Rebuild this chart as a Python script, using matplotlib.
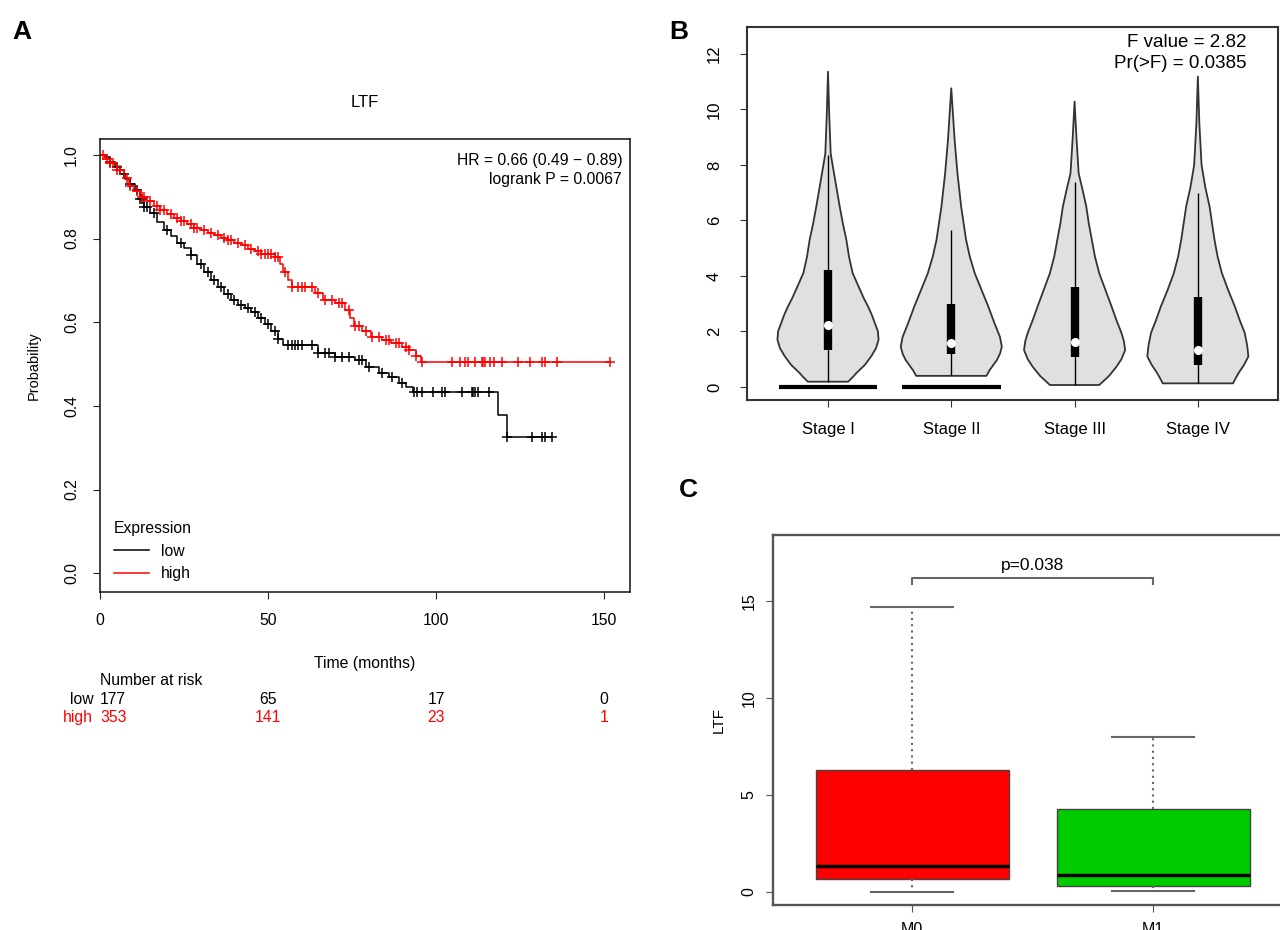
import numpy as np
import matplotlib
matplotlib.use("Agg")
import matplotlib.pyplot as plt

plt.rcParams['font.family'] = ['Liberation Sans', 'DejaVu Sans']

# ---------------- Panel A: Kaplan-Meier data ----------------
low_times = [0, 1.5, 3, 4.5, 6, 7.5, 9, 10.5, 12, 13, 15, 17, 19, 21, 23, 25, 27, 29, 31,
             33, 35, 37, 39, 41, 43, 45, 47, 49, 51, 53, 54.5, 65, 70, 76, 79, 83, 86, 89,
             91, 93, 118.5, 121]
low_surv = [1.0, 0.994, 0.983, 0.972, 0.955, 0.943, 0.93, 0.915, 0.895, 0.875, 0.86, 0.84,
            0.82, 0.805, 0.79, 0.778, 0.76, 0.74, 0.72, 0.70, 0.685, 0.668, 0.653, 0.64,
            0.635, 0.625, 0.61, 0.595, 0.58, 0.56, 0.545, 0.526, 0.517, 0.51, 0.493, 0.478,
            0.469, 0.455, 0.445, 0.434, 0.378, 0.326]
low_end = 134.5
low_censor = [3, 5, 7, 9, 11, 12, 12.5, 13, 14, 16, 20, 24, 27, 30, 32, 34, 36, 38, 40, 42,
              44, 46, 48, 50, 52, 53, 56, 57, 58, 59, 60, 63, 65, 67, 68, 70, 72, 74, 77, 78,
              80, 84, 87, 90, 93.3, 94.2, 95.7, 99.2, 101.7, 102.7, 107.6, 110.6, 111.1,
              111.6, 112.6, 115.6, 121, 128.4, 131.4, 132.4, 134.4]

high_times = [0, 1.5, 3, 5, 7, 8.5, 10, 12, 14, 16, 18, 20, 22, 24, 26, 28, 30, 32, 34, 36,
              38, 40, 42, 44, 46, 48, 52, 53.5, 54.5, 56, 57, 64, 66.5, 70, 73, 74.5, 75.5,
              78, 80.5, 84, 86.5, 90, 92, 94, 95.5]
high_surv = [1.0, 0.99, 0.98, 0.965, 0.945, 0.925, 0.913, 0.9, 0.89, 0.878, 0.868, 0.858,
             0.85, 0.842, 0.834, 0.826, 0.82, 0.814, 0.808, 0.802, 0.796, 0.79, 0.784, 0.776,
             0.77, 0.764, 0.756, 0.74, 0.72, 0.70, 0.685, 0.67, 0.653, 0.645, 0.63, 0.61,
             0.59, 0.578, 0.565, 0.557, 0.55, 0.54, 0.533, 0.52, 0.505]
high_end = 151.8
high_censor = [1, 2, 3, 4, 5, 6, 8, 9, 11, 12.5, 13, 15, 17, 18, 19, 21, 23, 24, 25, 27, 28,
               29, 31, 33, 35, 37, 38, 39, 41, 43, 45, 47, 48, 49, 50, 51, 52, 53, 55, 57,
               59, 60, 61, 63, 65, 67, 69, 71, 72, 74, 76, 77, 79, 81, 83, 85, 86, 88, 89,
               91, 92, 94, 95.7, 104.7, 107.1, 108.6, 109.6, 111.6, 113.6, 114.1, 114.6,
               116.1, 117.1, 119.6, 124.5, 128, 131.5, 132.4, 135.9, 151.8]

risk_times = [0, 50, 100, 150]
risk_low = [177, 65, 17, 0]
risk_high = [353, 141, 23, 1]

# ---------------- Panel B: violin profiles (value level, half width) ----------------
stages = ["Stage I", "Stage II", "Stage III", "Stage IV"]
viol_levels = [
    [0.19, 0.35, 0.5, 0.8, 1.1, 1.4, 1.7, 2.0, 2.3, 2.6, 2.9, 3.2, 3.5, 3.8, 4.1, 4.7, 5.3,
     5.9, 6.5, 7.4, 8.4, 9.8, 11.36],
    [0.4, 0.6, 0.97, 1.2, 1.45, 1.8, 2.3, 2.9, 3.5, 4.1, 4.7, 5.3, 5.9, 6.5, 7.7, 8.9, 10.76],
    [0.07, 0.4, 0.73, 1.0, 1.33, 1.65, 1.95, 2.4, 2.9, 3.5, 4.1, 4.7, 5.3, 5.9, 6.5, 7.1,
     7.7, 9.0, 10.28],
    [0.13, 0.3, 0.5, 0.8, 1.1, 1.5, 1.95, 2.4, 2.9, 3.5, 4.1, 4.7, 5.3, 5.9, 6.5, 7.2, 8.0,
     9.5, 11.18],
]
viol_half = [
    [0.163, 0.2, 0.23, 0.3, 0.35, 0.39, 0.41, 0.405, 0.38, 0.355, 0.325, 0.29, 0.26, 0.23,
     0.2, 0.17, 0.149, 0.12, 0.095, 0.06, 0.022, 0.01, 0.0],
    [0.285, 0.31, 0.37, 0.395, 0.41, 0.395, 0.35, 0.30, 0.245, 0.19, 0.15, 0.12, 0.1, 0.08,
     0.05, 0.027, 0.0],
    [0.2, 0.28, 0.34, 0.38, 0.41, 0.4, 0.38, 0.34, 0.3, 0.25, 0.2, 0.165, 0.14, 0.115,
     0.095, 0.065, 0.033, 0.015, 0.0],
    [0.285, 0.305, 0.33, 0.375, 0.41, 0.4, 0.38, 0.34, 0.30, 0.245, 0.195, 0.16, 0.135,
     0.115, 0.095, 0.06, 0.03, 0.012, 0.0],
]
viol_q1 = [1.33, 1.2, 1.09, 0.79]
viol_q3 = [4.2, 3.0, 3.61, 3.25]
viol_med = [2.23, 1.57, 1.63, 1.33]
viol_wlo = [0.19, 0.43, 0.07, 0.13]
viol_whi = [8.36, 5.66, 7.4, 6.98]
zero_bar_stages = [1, 2]

# ---------------- Panel C: box stats ----------------
groups = ["M0", "M1"]
box_q1 = [0.65, 0.3]
box_med = [1.35, 0.9]
box_q3 = [6.3, 4.3]
box_wlo = [0.0, 0.05]
box_whi = [14.7, 8.0]
box_colors = ["#FF0000", "#00CC00"]

W, H = 1280, 930
fig = plt.figure(figsize=(W / 100, H / 100), dpi=100)


def fr(left, top, right, bottom):
    return [left / W, (H - bottom) / H, (right - left) / W, (bottom - top) / H]


# ======================= Panel A =======================
axA = fig.add_axes(fr(100, 139, 630, 592))


def surv_at(times, surv, t):
    i = np.searchsorted(times, t, side='right') - 1
    return np.asarray(surv)[i]


for times, surv, end, cens, col, lab in [
        (low_times, low_surv, low_end, low_censor, 'black', 'low'),
        (high_times, high_surv, high_end, high_censor, 'red', 'high')]:
    axA.step(list(times) + [end], list(surv) + [surv[-1]], where='post', color=col, lw=1.1,
             label=lab)
    axA.plot(cens, surv_at(times, surv, cens), ls='none', marker='+', ms=7.5, mew=1.1,
             color=col)

fsA = 11.3
axA.set_xlim(0, 157.7)
axA.set_ylim(-0.045, 1.038)
axA.set_xticks([0, 50, 100, 150])
axA.set_yticks([0.0, 0.2, 0.4, 0.6, 0.8, 1.0])
axA.set_yticklabels(['0.0', '0.2', '0.4', '0.6', '0.8', '1.0'], rotation=90, va='center')
axA.tick_params(labelsize=fsA, length=5, pad=10, color='#222222')
for s in axA.spines.values():
    s.set_linewidth(1.2)
    s.set_color('#222222')
axA.set_title('LTF', fontsize=12, pad=23)
axA.set_ylabel('Probability', fontsize=10.5)
axA.yaxis.set_label_coords(-0.112, 0.5)
axA.set_xlabel('Time (months)', fontsize=fsA)
axA.xaxis.set_label_coords(0.5, -0.142)
axA.text(0.985, 0.968, 'HR = 0.66 (0.49 \u2212 0.89)\nlogrank P = 0.0067', transform=axA.transAxes,
         ha='right', va='top', fontsize=fsA, linespacing=1.3)
leg = axA.legend(title='Expression', loc='lower left', frameon=False, fontsize=fsA,
                 title_fontsize=fsA, handlelength=2.2, alignment='left',
                 bbox_to_anchor=(0.0, -0.008), labelspacing=0.5)

tr = axA.get_xaxis_transform()
axA.text(0, -0.195, 'Number at risk', transform=tr, ha='left', va='center', fontsize=fsA,
         clip_on=False)
for yrow, vals, col, lab in [(-0.238, risk_low, 'black', 'low'),
                             (-0.278, risk_high, 'red', 'high')]:
    axA.text(-2, yrow, lab, transform=tr, ha='right', va='center', fontsize=fsA, color=col)
    for i, (t, v) in enumerate(zip(risk_times, vals)):
        axA.text(t, yrow, str(v), transform=tr, ha='left' if i == 0 else 'center',
                 va='center', fontsize=fsA, color=col)

# ======================= Panel B =======================
axB = fig.add_axes(fr(747, 27, 1278, 400))
pos = np.arange(1, len(stages) + 1)
for p, lv, hw in zip(pos, viol_levels, viol_half):
    lv = np.asarray(lv)
    hw = np.asarray(hw)
    xs = np.concatenate([p - hw, (p + hw)[::-1]])
    ys = np.concatenate([lv, lv[::-1]])
    axB.fill(xs, ys, facecolor='#E0E0E0', edgecolor='#333333', lw=1.3, zorder=2,
             joinstyle='round')
axB.vlines(pos, viol_wlo, viol_whi, color='black', lw=1.0, zorder=3)
axB.vlines(pos, viol_q1, viol_q3, color='black', lw=6, zorder=4)
axB.plot(pos, viol_med, ls='none', marker='o', ms=5.5, mfc='white', mec='white', zorder=5)
for s in zero_bar_stages:
    axB.hlines(0, s - 0.40, s + 0.40, color='black', lw=3, zorder=3)
axB.set_xlim(0.343, 4.65)
axB.set_ylim(-0.47, 12.97)
axB.set_xticks(pos)
axB.set_xticklabels(stages)
axB.set_yticks([0, 2, 4, 6, 8, 10, 12])
axB.set_yticklabels(['0', '2', '4', '6', '8', '10', '12'], rotation=90, va='center')
axB.tick_params(labelsize=12, length=5, pad=11, color='#333333')
axB.tick_params(axis='y', pad=13)
for s in axB.spines.values():
    s.set_linewidth(1.5)
    s.set_color('#333333')
axB.text(0.94, 0.98, 'F value = 2.82\nPr(>F) = 0.0385', transform=axB.transAxes,
         ha='right', va='top', fontsize=13.5, linespacing=1.25)

# ======================= Panel C =======================
axC = fig.add_axes(fr(773, 535, 1293, 905))
stats = [dict(med=m, q1=a, q3=b, whislo=lo, whishi=hi, fliers=[], label=g)
         for g, m, a, b, lo, hi in zip(groups, box_med, box_q1, box_q3, box_wlo, box_whi)]
bp = axC.bxp(stats, positions=[1, 2], widths=0.8, patch_artist=True, showfliers=False,
             capwidths=0.34,
             boxprops=dict(edgecolor='#444444', lw=1.0),
             medianprops=dict(color='black', lw=2.5),
             whiskerprops=dict(color='#666666', lw=1.5, ls=(0, (1, 2))),
             capprops=dict(color='#666666', lw=1.5))
for patch, c in zip(bp['boxes'], box_colors):
    patch.set_facecolor(c)
axC.set_xlim(0.423, 2.58)
axC.set_ylim(-0.67, 18.4)
axC.set_yticks([0, 5, 10, 15])
axC.set_yticklabels(['0', '5', '10', '15'], rotation=90, va='center')
axC.tick_params(labelsize=11.5, length=5, pad=7, color='#555555')
for s in axC.spines.values():
    s.set_linewidth(1.7)
    s.set_color('#555555')
axC.set_ylabel('LTF', fontsize=11)
axC.yaxis.set_label_coords(-0.09, 0.5)
axC.plot([1, 1, 2, 2], [15.9, 16.2, 16.2, 15.9], color='#666666', lw=1.5)
axC.text(1.5, 16.45, 'p=0.038', ha='center', va='bottom', fontsize=12.5)

# panel letters
fig.text(12 / W, 1 - 32 / H, 'A', fontsize=19, fontweight='bold', va='center')
fig.text(669 / W, 1 - 32 / H, 'B', fontsize=19, fontweight='bold', va='center')
fig.text(679 / W, 1 - 490 / H, 'C', fontsize=19, fontweight='bold', va='center')

fig.savefig('out.png', dpi=100)
